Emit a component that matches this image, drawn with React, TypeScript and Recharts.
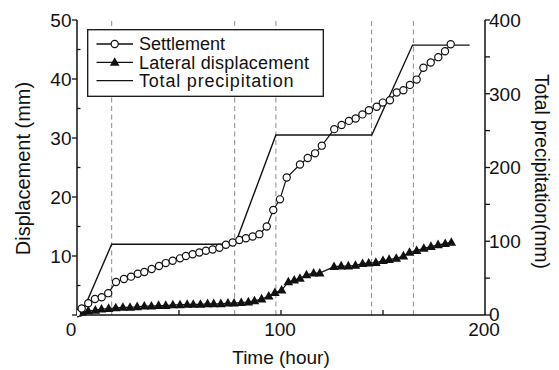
import React from 'react';
import { LineChart, Line, XAxis, YAxis, ReferenceLine, Label } from 'recharts';

// Settlement readings (hour, mm)
const settlementHours = [0, 2.3, 5.5, 8.8, 12.1, 15.3, 19.1, 23.0, 26.5, 29.8, 33.0, 36.6, 40.2, 43.5, 46.9, 50.5, 53.4, 56.7, 60.0, 63.2, 66.5, 69.8, 73.0, 76.3, 79.6, 82.8, 86.1, 89.4, 93.0, 96.2, 99.5, 102.8, 109.3, 113.1, 116.7, 120.0, 126.1, 129.7, 133.3, 136.6, 139.9, 143.1, 146.9, 149.9, 153.4, 156.7, 160.0, 163.2, 166.5, 169.8, 173.4, 177.1, 180.4, 183.2];
const settlementMm = [0.3, 1.1, 2.0, 2.7, 3.0, 3.7, 5.6, 6.1, 6.5, 7.0, 7.3, 7.8, 8.3, 8.8, 9.2, 9.6, 10.0, 10.3, 10.6, 10.9, 11.1, 11.4, 11.9, 12.3, 12.7, 13.0, 13.3, 13.7, 15.0, 17.8, 19.6, 23.3, 25.5, 26.6, 27.4, 28.7, 31.5, 32.2, 32.9, 33.3, 34.0, 34.7, 35.3, 36.0, 36.4, 37.7, 38.1, 39.0, 39.9, 41.9, 42.8, 43.7, 44.7, 45.9];

// Lateral displacement readings (hour, mm)
const lateralHours = [0, 2.5, 5.5, 9, 12, 15.5, 19, 22.5, 26, 29.5, 33, 36.5, 40, 43.5, 47, 50.5, 54, 57, 60.5, 64, 67, 70.5, 74, 77, 80.5, 84, 87, 90.5, 94, 97, 100.3, 103.6, 106.5, 109.3, 112.5, 116, 119, 126, 129.5, 133, 136.5, 140, 143, 146.5, 150, 153, 156.5, 160, 163, 166.5, 170, 173.5, 177, 180.5, 183.5];
const lateralMm = [0.3, 0.5, 0.7, 0.8, 1.0, 1.1, 1.2, 1.3, 1.3, 1.4, 1.5, 1.5, 1.6, 1.6, 1.7, 1.7, 1.8, 1.8, 1.8, 1.9, 1.9, 1.9, 2.0, 2.0, 2.1, 2.2, 2.4, 2.7, 3.2, 3.8, 4.2, 5.6, 5.9, 6.2, 6.8, 7.1, 7.1, 8.2, 8.3, 8.3, 8.4, 8.7, 8.8, 8.9, 9.2, 9.4, 9.6, 10.0, 10.6, 10.9, 11.3, 11.6, 11.9, 12.1, 12.3];

// Cumulative precipitation (hour, mm)
const rainHours = [0, 2, 17, 77.5, 97.5, 144.5, 164.5, 192.5];
const rainMm = [0, 0, 96, 96, 244, 244, 366, 366];

// Start / end of rainfall periods
const rainEventHours = [17, 77.3, 97.5, 144.4, 164.9];

// Axis ticks
const timeTicks = [0, 50, 100, 150, 200];
const timeLabels = [0, 100, 200];
const dispTicks = [0, 5, 10, 15, 20, 25, 30, 35, 40, 45, 50];
const dispLabels = [10, 20, 30, 40, 50];
const rainTicks = [0, 50, 100, 150, 200, 250, 300, 350, 400];
const rainLabels = [0, 100, 200, 300, 400];

const settlementData = settlementHours.map((t, i) => ({ t, d: settlementMm[i] }));
const lateralData = lateralHours.map((t, i) => ({ t, d: lateralMm[i] }));
const rainData = rainHours.map((t, i) => ({ t, p: rainMm[i] }));

const FONT = '"Liberation Sans", Arial, Helvetica, sans-serif';
const INK = '#111';

const W = 545;
const H = 362;
const M = { top: 12, right: 8, bottom: 0, left: 0 };
const LEFT_W = 69;
const RIGHT_W = 60;
const BOTTOM_H = 55;

const CircleDot = (p: any) => (
  <circle key={`s${p.index}`} cx={p.cx} cy={p.cy} r={3.6} fill="#fff" stroke={INK} strokeWidth={1.2} />
);

const TriangleDot = (p: any) => (
  <path
    key={`l${p.index}`}
    d={`M${p.cx},${p.cy - 5.2}L${p.cx + 4.8},${p.cy + 3.4}L${p.cx - 4.8},${p.cy + 3.4}Z`}
    fill={INK}
  />
);

const BottomTick = (p: any) => {
  const v = p.payload.value;
  const inner = v > 0 && v < 200;
  return (
    <g>
      {inner && <line x1={p.x} x2={p.x} y1={p.y} y2={p.y - 5} stroke={INK} strokeWidth={1.3} />}
      {timeLabels.includes(v) && (
        <text x={p.x + (v === 0 ? -6 : -1)} y={p.y + 20.5} textAnchor="middle" fontSize={19} fontFamily={FONT} fill={INK}>
          {v}
        </text>
      )}
    </g>
  );
};

const TopTick = (p: any) => {
  const v = p.payload.value;
  if (v <= 0 || v >= 200) return <g />;
  return <line x1={p.x} x2={p.x} y1={p.y} y2={p.y + 5} stroke={INK} strokeWidth={1.3} />;
};

const LeftTick = (p: any) => {
  const v = p.payload.value;
  const major = v % 10 === 0;
  return (
    <g>
      {major ? (
        <line x1={p.x - 5} x2={p.x} y1={p.y} y2={p.y} stroke={INK} strokeWidth={1.3} />
      ) : (
        <line x1={p.x} x2={p.x + 3.5} y1={p.y} y2={p.y} stroke={INK} strokeWidth={1.3} />
      )}
      {dispLabels.includes(v) && (
        <text x={p.x - 5.5} y={p.y + 6.8} textAnchor="end" fontSize={19} fontFamily={FONT} fill={INK}>
          {v}
        </text>
      )}
    </g>
  );
};

const RightTick = (p: any) => {
  const v = p.payload.value;
  return (
    <g>
      <line x1={p.x} x2={p.x + 5} y1={p.y} y2={p.y} stroke={INK} strokeWidth={1.3} />
      {rainLabels.includes(v) && (
        <text x={p.x + 4} y={p.y + (v === 0 ? 5.5 : 6.8)} textAnchor="start" fontSize={19} fontFamily={FONT} fill={INK}>
          {v}
        </text>
      )}
    </g>
  );
};

const plotTop = M.top;
const plotBottom = H - M.bottom - BOTTOM_H;
const plotLeft = M.left + LEFT_W;
const plotRight = W - M.right - RIGHT_W;
const midY = (plotTop + plotBottom) / 2;
const midX = (plotLeft + plotRight) / 2;

const LegendBox = () => {
  const rows = [
    { label: 'Settlement', y: 15, kind: 'circle', spacing: 0 },
    { label: 'Lateral displacement', y: 33.4, kind: 'triangle', spacing: 0.2 },
    { label: 'Total precipitation', y: 51.7, kind: 'none', spacing: 0.8 },
  ];
  return (
    <svg width={237} height={68} style={{ display: 'block' }}>
      <rect x={0.7} y={0.7} width={235.6} height={66.6} fill="#fff" stroke={INK} strokeWidth={1.3} />
      {rows.map((r) => (
        <g key={r.label}>
          <line x1={9.5} x2={46} y1={r.y} y2={r.y} stroke={INK} strokeWidth={1.3} />
          {r.kind === 'circle' && <CircleDot cx={27.7} cy={r.y} index={0} />}
          {r.kind === 'triangle' && <TriangleDot cx={27.7} cy={r.y} index={0} />}
          <text x={52} y={r.y + 6.4} fontSize={18} fontFamily={FONT} fill={INK} letterSpacing={r.spacing}>
            {r.label}
          </text>
        </g>
      ))}
    </svg>
  );
};

export default function App() {
  return (
    <div style={{ position: 'relative', width: W, height: H, background: '#fff' }}>
      <LineChart width={W} height={H} margin={M}>
        <XAxis
          dataKey="t"
          type="number"
          domain={[0, 200]}
          ticks={timeTicks}
          interval={0}
          tickSize={0}
          tickMargin={0}
          tickLine={false}
          tick={BottomTick}
          height={BOTTOM_H}
          axisLine={{ stroke: INK, strokeWidth: 1.5 }}
          allowDataOverflow
        >
          <Label
            content={() => (
              <text x={midX} y={356} textAnchor="middle" fontSize={19} fontFamily={FONT} fill={INK}>
                Time (hour)
              </text>
            )}
          />
        </XAxis>
        <XAxis
          xAxisId="top"
          dataKey="t"
          type="number"
          orientation="top"
          domain={[0, 200]}
          ticks={timeTicks}
          interval={0}
          tickSize={0}
          tickMargin={0}
          tickLine={false}
          tick={TopTick}
          height={0}
          axisLine={{ stroke: INK, strokeWidth: 1.5 }}
        />
        <YAxis
          yAxisId="left"
          type="number"
          domain={[0, 50]}
          ticks={dispTicks}
          interval={0}
          tickSize={0}
          tickMargin={0}
          tickLine={false}
          tick={LeftTick}
          width={LEFT_W}
          axisLine={{ stroke: INK, strokeWidth: 1.5 }}
        >
          <Label
            content={() => (
              <text
                x={21.5}
                y={midY + 1}
                transform={`rotate(-90, 21.5, ${midY + 1})`}
                textAnchor="middle"
                fontSize={20}
                fontFamily={FONT}
                fill={INK}
              >
                Displacement (mm)
              </text>
            )}
          />
        </YAxis>
        <YAxis
          yAxisId="right"
          orientation="right"
          type="number"
          domain={[0, 400]}
          ticks={rainTicks}
          interval={0}
          tickSize={0}
          tickMargin={0}
          tickLine={false}
          tick={RightTick}
          width={RIGHT_W}
          axisLine={{ stroke: INK, strokeWidth: 1.5 }}
        >
          <Label
            content={() => (
              <text
                x={527}
                y={midY + 4}
                transform={`rotate(90, 527, ${midY + 4})`}
                textAnchor="middle"
                fontSize={19.3}
                fontFamily={FONT}
                fill={INK}
              >
                Total precipitation(mm)
              </text>
            )}
          />
        </YAxis>

        {rainEventHours.map((h) => (
          <ReferenceLine
            key={h}
            x={h}
            yAxisId="left"
            stroke="#8c8c8c"
            strokeWidth={1}
            strokeDasharray="5 3.5"
          />
        ))}

        <Line
          yAxisId="right"
          data={rainData}
          dataKey="p"
          type="linear"
          stroke={INK}
          strokeWidth={1.4}
          dot={false}
          isAnimationActive={false}
        />
        <Line
          yAxisId="left"
          data={lateralData}
          dataKey="d"
          type="linear"
          stroke={INK}
          strokeWidth={1.2}
          dot={TriangleDot}
          isAnimationActive={false}
        />
        <Line
          yAxisId="left"
          data={settlementData}
          dataKey="d"
          type="linear"
          stroke={INK}
          strokeWidth={1.2}
          dot={CircleDot}
          isAnimationActive={false}
        />
      </LineChart>
      <div style={{ position: 'absolute', left: 79, top: 21 }}>
        <LegendBox />
      </div>
    </div>
  );
}
